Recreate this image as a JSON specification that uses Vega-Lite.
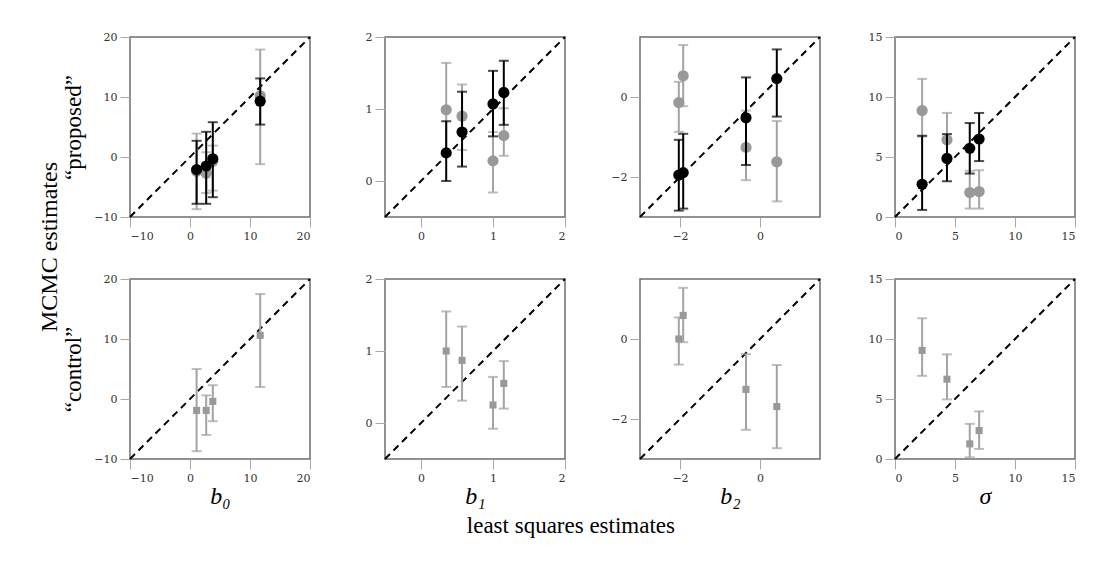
{
  "$schema": "https://vega.github.io/schema/vega-lite/v6.json",
  "background": "white",
  "padding": {"left": 38, "top": 30, "right": 5, "bottom": 5},
  "datasets": {
    "d": [
      {"p": "b0", "r": "all", "s": "diag", "x": -10, "y": -10},
      {"p": "b0", "r": "all", "s": "diag", "x": 20, "y": 20},
      {"p": "b1", "r": "all", "s": "diag", "x": -0.5, "y": -0.5},
      {"p": "b1", "r": "all", "s": "diag", "x": 2, "y": 2},
      {"p": "b2", "r": "all", "s": "diag", "x": -3, "y": -3},
      {"p": "b2", "r": "all", "s": "diag", "x": 1.5, "y": 1.5},
      {"p": "sigma", "r": "all", "s": "diag", "x": 0, "y": 0},
      {"p": "sigma", "r": "all", "s": "diag", "x": 15, "y": 15},

      {"p": "b0", "r": "proposed", "s": "black", "x": 1.1, "y": -2.1, "lo": -7.8, "hi": 2.7},
      {"p": "b0", "r": "proposed", "s": "black", "x": 2.7, "y": -1.5, "lo": -7.8, "hi": 4.2},
      {"p": "b0", "r": "proposed", "s": "black", "x": 3.8, "y": -0.3, "lo": -6.7, "hi": 5.8},
      {"p": "b0", "r": "proposed", "s": "black", "x": 11.7, "y": 9.3, "lo": 5.4, "hi": 13.1},
      {"p": "b0", "r": "proposed", "s": "grey", "x": 1.1, "y": -2.4, "lo": -8.7, "hi": 3.9},
      {"p": "b0", "r": "proposed", "s": "grey", "x": 2.7, "y": -2.7, "lo": -6.0, "hi": 0.8},
      {"p": "b0", "r": "proposed", "s": "grey", "x": 3.8, "y": -0.7, "lo": -5.6, "hi": 1.9},
      {"p": "b0", "r": "proposed", "s": "grey", "x": 11.7, "y": 10.2, "lo": -1.2, "hi": 17.9},
      {"p": "b0", "r": "control", "s": "grey", "x": 1.1, "y": -1.9, "lo": -8.7, "hi": 5.0},
      {"p": "b0", "r": "control", "s": "grey", "x": 2.7, "y": -1.9, "lo": -6.0, "hi": 0.6},
      {"p": "b0", "r": "control", "s": "grey", "x": 3.8, "y": -0.4, "lo": -3.7, "hi": 2.3},
      {"p": "b0", "r": "control", "s": "grey", "x": 11.7, "y": 10.6, "lo": 2.0, "hi": 17.5},

      {"p": "b1", "r": "proposed", "s": "black", "x": 0.35, "y": 0.39, "lo": 0.0, "hi": 0.83},
      {"p": "b1", "r": "proposed", "s": "black", "x": 0.57, "y": 0.68, "lo": 0.2, "hi": 1.24},
      {"p": "b1", "r": "proposed", "s": "black", "x": 1.0, "y": 1.07, "lo": 0.62, "hi": 1.53},
      {"p": "b1", "r": "proposed", "s": "black", "x": 1.15, "y": 1.23, "lo": 0.78, "hi": 1.67},
      {"p": "b1", "r": "proposed", "s": "grey", "x": 0.35, "y": 0.99, "lo": 0.35, "hi": 1.64},
      {"p": "b1", "r": "proposed", "s": "grey", "x": 0.57, "y": 0.9, "lo": 0.43, "hi": 1.34},
      {"p": "b1", "r": "proposed", "s": "grey", "x": 1.0, "y": 0.28, "lo": -0.16, "hi": 0.68},
      {"p": "b1", "r": "proposed", "s": "grey", "x": 1.15, "y": 0.63, "lo": 0.35, "hi": 1.01},
      {"p": "b1", "r": "control", "s": "grey", "x": 0.35, "y": 1.0, "lo": 0.5, "hi": 1.55},
      {"p": "b1", "r": "control", "s": "grey", "x": 0.57, "y": 0.87, "lo": 0.31, "hi": 1.34},
      {"p": "b1", "r": "control", "s": "grey", "x": 1.0, "y": 0.25, "lo": -0.08, "hi": 0.64},
      {"p": "b1", "r": "control", "s": "grey", "x": 1.15, "y": 0.55, "lo": 0.2, "hi": 0.86},

      {"p": "b2", "r": "proposed", "s": "black", "x": -2.03, "y": -1.95, "lo": -2.84, "hi": -1.07},
      {"p": "b2", "r": "proposed", "s": "black", "x": -1.92, "y": -1.89, "lo": -2.79, "hi": -0.92},
      {"p": "b2", "r": "proposed", "s": "black", "x": -0.35, "y": -0.52, "lo": -1.7, "hi": 0.49},
      {"p": "b2", "r": "proposed", "s": "black", "x": 0.42, "y": 0.46, "lo": -0.49, "hi": 1.19},
      {"p": "b2", "r": "proposed", "s": "grey", "x": -2.03, "y": -0.14, "lo": -0.87, "hi": 0.38},
      {"p": "b2", "r": "proposed", "s": "grey", "x": -1.92, "y": 0.53, "lo": -0.23, "hi": 1.3},
      {"p": "b2", "r": "proposed", "s": "grey", "x": -0.35, "y": -1.26, "lo": -2.08, "hi": -0.34},
      {"p": "b2", "r": "proposed", "s": "grey", "x": 0.42, "y": -1.62, "lo": -2.61, "hi": -0.6},
      {"p": "b2", "r": "control", "s": "grey", "x": -2.03, "y": 0.0, "lo": -0.64, "hi": 0.54},
      {"p": "b2", "r": "control", "s": "grey", "x": -1.92, "y": 0.59, "lo": -0.08, "hi": 1.28},
      {"p": "b2", "r": "control", "s": "grey", "x": -0.35, "y": -1.26, "lo": -2.27, "hi": -0.38},
      {"p": "b2", "r": "control", "s": "grey", "x": 0.42, "y": -1.69, "lo": -2.73, "hi": -0.65},

      {"p": "sigma", "r": "proposed", "s": "black", "x": 2.26, "y": 2.73, "lo": 0.59, "hi": 6.77},
      {"p": "sigma", "r": "proposed", "s": "black", "x": 4.33, "y": 4.88, "lo": 2.98, "hi": 6.91},
      {"p": "sigma", "r": "proposed", "s": "black", "x": 6.23, "y": 5.72, "lo": 3.62, "hi": 7.83},
      {"p": "sigma", "r": "proposed", "s": "black", "x": 7.01, "y": 6.5, "lo": 4.66, "hi": 8.67},
      {"p": "sigma", "r": "proposed", "s": "grey", "x": 2.26, "y": 8.87, "lo": 6.7, "hi": 11.51},
      {"p": "sigma", "r": "proposed", "s": "grey", "x": 4.33, "y": 6.44, "lo": 4.9, "hi": 8.67},
      {"p": "sigma", "r": "proposed", "s": "grey", "x": 6.23, "y": 2.04, "lo": 0.7, "hi": 3.85},
      {"p": "sigma", "r": "proposed", "s": "grey", "x": 7.01, "y": 2.12, "lo": 0.7, "hi": 3.9},
      {"p": "sigma", "r": "control", "s": "grey", "x": 2.26, "y": 9.05, "lo": 6.93, "hi": 11.73},
      {"p": "sigma", "r": "control", "s": "grey", "x": 4.33, "y": 6.65, "lo": 4.97, "hi": 8.72},
      {"p": "sigma", "r": "control", "s": "grey", "x": 6.23, "y": 1.26, "lo": 0.14, "hi": 2.93},
      {"p": "sigma", "r": "control", "s": "grey", "x": 7.01, "y": 2.37, "lo": 0.84, "hi": 3.97}
    ]
  },
  "title": {"text": "MCMC estimates", "orient": "left", "anchor": "middle", "font": "Liberation Serif", "fontSize": 24, "fontWeight": "normal", "color": "#000", "offset": 0, "dx": 37},
  "vconcat": [
    {
      "title": {"text": "least squares estimates", "orient": "bottom", "anchor": "middle", "font": "Liberation Serif", "fontSize": 23, "fontWeight": "normal", "color": "#000", "offset": 6},
      "columns": 4,
      "bounds": "flush",
      "spacing": {"row": 62, "column": 75},
      "concat": [
        {
          "width": 180, "height": 180, "data": {"name": "d"},
          "layer": [
            {"transform": [{"filter": "datum.s==='diag' && datum.p==='b0'"}], "mark": {"type": "line", "color": "#000", "strokeWidth": 2, "strokeDash": [7, 5]},
             "encoding": {"x": {"field": "x", "type": "quantitative", "scale": {"domain": [-10, 20], "nice": false, "zero": false}, "axis": {"values": [-10, 0, 10, 20], "title": null}},
                          "y": {"field": "y", "type": "quantitative", "scale": {"domain": [-10, 20], "nice": false, "zero": false}, "axis": {"values": [-10, 0, 10, 20], "title": "“proposed”"}}}},
            {"transform": [{"filter": "datum.s==='grey' && datum.p==='b0' && datum.r==='proposed'"}], "mark": {"type": "errorbar", "ticks": true, "size": 10, "thickness": 2, "color": "#a3a3a3"},
             "encoding": {"x": {"field": "x", "type": "quantitative"}, "y": {"field": "lo", "type": "quantitative", "title": "“proposed”"}, "y2": {"field": "hi"}}},
            {"transform": [{"filter": "datum.s==='grey' && datum.p==='b0' && datum.r==='proposed'"}], "mark": {"type": "point", "shape": "circle", "filled": true, "size": 125, "color": "#999999", "opacity": 1},
             "encoding": {"x": {"field": "x", "type": "quantitative"}, "y": {"field": "y", "type": "quantitative", "title": "“proposed”"}}},
            {"transform": [{"filter": "datum.s==='black' && datum.p==='b0' && datum.r==='proposed'"}], "mark": {"type": "errorbar", "ticks": true, "size": 10, "thickness": 2, "color": "#000"},
             "encoding": {"x": {"field": "x", "type": "quantitative"}, "y": {"field": "lo", "type": "quantitative", "title": "“proposed”"}, "y2": {"field": "hi"}}},
            {"transform": [{"filter": "datum.s==='black' && datum.p==='b0' && datum.r==='proposed'"}], "mark": {"type": "point", "shape": "circle", "filled": true, "size": 125, "color": "#000", "opacity": 1},
             "encoding": {"x": {"field": "x", "type": "quantitative"}, "y": {"field": "y", "type": "quantitative", "title": "“proposed”"}}}
          ]
        },
        {
          "width": 180, "height": 180, "data": {"name": "d"},
          "layer": [
            {"transform": [{"filter": "datum.s==='diag' && datum.p==='b1'"}], "mark": {"type": "line", "color": "#000", "strokeWidth": 2, "strokeDash": [7, 5]},
             "encoding": {"x": {"field": "x", "type": "quantitative", "scale": {"domain": [-0.5, 2], "nice": false, "zero": false}, "axis": {"values": [0, 1, 2], "format": "d", "title": null}},
                          "y": {"field": "y", "type": "quantitative", "scale": {"domain": [-0.5, 2], "nice": false, "zero": false}, "axis": {"values": [0, 1, 2], "format": "d", "title": null}}}},
            {"transform": [{"filter": "datum.s==='grey' && datum.p==='b1' && datum.r==='proposed'"}], "mark": {"type": "errorbar", "ticks": true, "size": 10, "thickness": 2, "color": "#a3a3a3"},
             "encoding": {"x": {"field": "x", "type": "quantitative"}, "y": {"field": "lo", "type": "quantitative"}, "y2": {"field": "hi"}}},
            {"transform": [{"filter": "datum.s==='grey' && datum.p==='b1' && datum.r==='proposed'"}], "mark": {"type": "point", "shape": "circle", "filled": true, "size": 125, "color": "#999999", "opacity": 1},
             "encoding": {"x": {"field": "x", "type": "quantitative"}, "y": {"field": "y", "type": "quantitative"}}},
            {"transform": [{"filter": "datum.s==='black' && datum.p==='b1' && datum.r==='proposed'"}], "mark": {"type": "errorbar", "ticks": true, "size": 10, "thickness": 2, "color": "#000"},
             "encoding": {"x": {"field": "x", "type": "quantitative"}, "y": {"field": "lo", "type": "quantitative"}, "y2": {"field": "hi"}}},
            {"transform": [{"filter": "datum.s==='black' && datum.p==='b1' && datum.r==='proposed'"}], "mark": {"type": "point", "shape": "circle", "filled": true, "size": 125, "color": "#000", "opacity": 1},
             "encoding": {"x": {"field": "x", "type": "quantitative"}, "y": {"field": "y", "type": "quantitative"}}}
          ]
        },
        {
          "width": 180, "height": 180, "data": {"name": "d"},
          "layer": [
            {"transform": [{"filter": "datum.s==='diag' && datum.p==='b2'"}], "mark": {"type": "line", "color": "#000", "strokeWidth": 2, "strokeDash": [7, 5]},
             "encoding": {"x": {"field": "x", "type": "quantitative", "scale": {"domain": [-3, 1.5], "nice": false, "zero": false}, "axis": {"values": [-2, 0], "title": null}},
                          "y": {"field": "y", "type": "quantitative", "scale": {"domain": [-3, 1.5], "nice": false, "zero": false}, "axis": {"values": [-2, 0], "title": null}}}},
            {"transform": [{"filter": "datum.s==='grey' && datum.p==='b2' && datum.r==='proposed'"}], "mark": {"type": "errorbar", "ticks": true, "size": 10, "thickness": 2, "color": "#a3a3a3"},
             "encoding": {"x": {"field": "x", "type": "quantitative"}, "y": {"field": "lo", "type": "quantitative"}, "y2": {"field": "hi"}}},
            {"transform": [{"filter": "datum.s==='grey' && datum.p==='b2' && datum.r==='proposed'"}], "mark": {"type": "point", "shape": "circle", "filled": true, "size": 125, "color": "#999999", "opacity": 1},
             "encoding": {"x": {"field": "x", "type": "quantitative"}, "y": {"field": "y", "type": "quantitative"}}},
            {"transform": [{"filter": "datum.s==='black' && datum.p==='b2' && datum.r==='proposed'"}], "mark": {"type": "errorbar", "ticks": true, "size": 10, "thickness": 2, "color": "#000"},
             "encoding": {"x": {"field": "x", "type": "quantitative"}, "y": {"field": "lo", "type": "quantitative"}, "y2": {"field": "hi"}}},
            {"transform": [{"filter": "datum.s==='black' && datum.p==='b2' && datum.r==='proposed'"}], "mark": {"type": "point", "shape": "circle", "filled": true, "size": 125, "color": "#000", "opacity": 1},
             "encoding": {"x": {"field": "x", "type": "quantitative"}, "y": {"field": "y", "type": "quantitative"}}}
          ]
        },
        {
          "width": 180, "height": 180, "data": {"name": "d"},
          "layer": [
            {"transform": [{"filter": "datum.s==='diag' && datum.p==='sigma'"}], "mark": {"type": "line", "color": "#000", "strokeWidth": 2, "strokeDash": [7, 5]},
             "encoding": {"x": {"field": "x", "type": "quantitative", "scale": {"domain": [0, 15], "nice": false, "zero": false}, "axis": {"values": [0, 5, 10, 15], "title": null}},
                          "y": {"field": "y", "type": "quantitative", "scale": {"domain": [0, 15], "nice": false, "zero": false}, "axis": {"values": [0, 5, 10, 15], "title": null}}}},
            {"transform": [{"filter": "datum.s==='grey' && datum.p==='sigma' && datum.r==='proposed'"}], "mark": {"type": "errorbar", "ticks": true, "size": 10, "thickness": 2, "color": "#a3a3a3"},
             "encoding": {"x": {"field": "x", "type": "quantitative"}, "y": {"field": "lo", "type": "quantitative"}, "y2": {"field": "hi"}}},
            {"transform": [{"filter": "datum.s==='grey' && datum.p==='sigma' && datum.r==='proposed'"}], "mark": {"type": "point", "shape": "circle", "filled": true, "size": 125, "color": "#999999", "opacity": 1},
             "encoding": {"x": {"field": "x", "type": "quantitative"}, "y": {"field": "y", "type": "quantitative"}}},
            {"transform": [{"filter": "datum.s==='black' && datum.p==='sigma' && datum.r==='proposed'"}], "mark": {"type": "errorbar", "ticks": true, "size": 10, "thickness": 2, "color": "#000"},
             "encoding": {"x": {"field": "x", "type": "quantitative"}, "y": {"field": "lo", "type": "quantitative"}, "y2": {"field": "hi"}}},
            {"transform": [{"filter": "datum.s==='black' && datum.p==='sigma' && datum.r==='proposed'"}], "mark": {"type": "point", "shape": "circle", "filled": true, "size": 125, "color": "#000", "opacity": 1},
             "encoding": {"x": {"field": "x", "type": "quantitative"}, "y": {"field": "y", "type": "quantitative"}}}
          ]
        },
        {
          "width": 180, "height": 180, "data": {"name": "d"},
          "layer": [
            {"transform": [{"filter": "datum.s==='diag' && datum.p==='b0'"}], "mark": {"type": "line", "color": "#000", "strokeWidth": 2, "strokeDash": [7, 5]},
             "encoding": {"x": {"field": "x", "type": "quantitative", "scale": {"domain": [-10, 20], "nice": false, "zero": false}, "axis": {"values": [-10, 0, 10, 20], "title": "b₀", "titleFontStyle": "italic", "titleFontSize": 24, "titlePadding": 1}},
                          "y": {"field": "y", "type": "quantitative", "scale": {"domain": [-10, 20], "nice": false, "zero": false}, "axis": {"values": [-10, 0, 10, 20], "title": "“control”"}}}},
            {"transform": [{"filter": "datum.s==='grey' && datum.p==='b0' && datum.r==='control'"}], "mark": {"type": "errorbar", "ticks": true, "size": 10, "thickness": 2, "color": "#a3a3a3"},
             "encoding": {"x": {"field": "x", "type": "quantitative", "title": "b₀"}, "y": {"field": "lo", "type": "quantitative", "title": "“control”"}, "y2": {"field": "hi"}}},
            {"transform": [{"filter": "datum.s==='grey' && datum.p==='b0' && datum.r==='control'"}], "mark": {"type": "point", "shape": "square", "filled": true, "size": 50, "color": "#999999", "opacity": 1},
             "encoding": {"x": {"field": "x", "type": "quantitative", "title": "b₀"}, "y": {"field": "y", "type": "quantitative", "title": "“control”"}}}
          ]
        },
        {
          "width": 180, "height": 180, "data": {"name": "d"},
          "layer": [
            {"transform": [{"filter": "datum.s==='diag' && datum.p==='b1'"}], "mark": {"type": "line", "color": "#000", "strokeWidth": 2, "strokeDash": [7, 5]},
             "encoding": {"x": {"field": "x", "type": "quantitative", "scale": {"domain": [-0.5, 2], "nice": false, "zero": false}, "axis": {"values": [0, 1, 2], "format": "d", "title": "b₁", "titleFontStyle": "italic", "titleFontSize": 24, "titlePadding": 1}},
                          "y": {"field": "y", "type": "quantitative", "scale": {"domain": [-0.5, 2], "nice": false, "zero": false}, "axis": {"values": [0, 1, 2], "format": "d", "title": null}}}},
            {"transform": [{"filter": "datum.s==='grey' && datum.p==='b1' && datum.r==='control'"}], "mark": {"type": "errorbar", "ticks": true, "size": 10, "thickness": 2, "color": "#a3a3a3"},
             "encoding": {"x": {"field": "x", "type": "quantitative", "title": "b₁"}, "y": {"field": "lo", "type": "quantitative"}, "y2": {"field": "hi"}}},
            {"transform": [{"filter": "datum.s==='grey' && datum.p==='b1' && datum.r==='control'"}], "mark": {"type": "point", "shape": "square", "filled": true, "size": 50, "color": "#999999", "opacity": 1},
             "encoding": {"x": {"field": "x", "type": "quantitative", "title": "b₁"}, "y": {"field": "y", "type": "quantitative"}}}
          ]
        },
        {
          "width": 180, "height": 180, "data": {"name": "d"},
          "layer": [
            {"transform": [{"filter": "datum.s==='diag' && datum.p==='b2'"}], "mark": {"type": "line", "color": "#000", "strokeWidth": 2, "strokeDash": [7, 5]},
             "encoding": {"x": {"field": "x", "type": "quantitative", "scale": {"domain": [-3, 1.5], "nice": false, "zero": false}, "axis": {"values": [-2, 0], "title": "b₂", "titleFontStyle": "italic", "titleFontSize": 24, "titlePadding": 1}},
                          "y": {"field": "y", "type": "quantitative", "scale": {"domain": [-3, 1.5], "nice": false, "zero": false}, "axis": {"values": [-2, 0], "title": null}}}},
            {"transform": [{"filter": "datum.s==='grey' && datum.p==='b2' && datum.r==='control'"}], "mark": {"type": "errorbar", "ticks": true, "size": 10, "thickness": 2, "color": "#a3a3a3"},
             "encoding": {"x": {"field": "x", "type": "quantitative", "title": "b₂"}, "y": {"field": "lo", "type": "quantitative"}, "y2": {"field": "hi"}}},
            {"transform": [{"filter": "datum.s==='grey' && datum.p==='b2' && datum.r==='control'"}], "mark": {"type": "point", "shape": "square", "filled": true, "size": 50, "color": "#999999", "opacity": 1},
             "encoding": {"x": {"field": "x", "type": "quantitative", "title": "b₂"}, "y": {"field": "y", "type": "quantitative"}}}
          ]
        },
        {
          "width": 180, "height": 180, "data": {"name": "d"},
          "layer": [
            {"transform": [{"filter": "datum.s==='diag' && datum.p==='sigma'"}], "mark": {"type": "line", "color": "#000", "strokeWidth": 2, "strokeDash": [7, 5]},
             "encoding": {"x": {"field": "x", "type": "quantitative", "scale": {"domain": [0, 15], "nice": false, "zero": false}, "axis": {"values": [0, 5, 10, 15], "title": "σ", "titleFontStyle": "italic", "titleFontSize": 24, "titlePadding": 1}},
                          "y": {"field": "y", "type": "quantitative", "scale": {"domain": [0, 15], "nice": false, "zero": false}, "axis": {"values": [0, 5, 10, 15], "title": null}}}},
            {"transform": [{"filter": "datum.s==='grey' && datum.p==='sigma' && datum.r==='control'"}], "mark": {"type": "errorbar", "ticks": true, "size": 10, "thickness": 2, "color": "#a3a3a3"},
             "encoding": {"x": {"field": "x", "type": "quantitative", "title": "σ"}, "y": {"field": "lo", "type": "quantitative"}, "y2": {"field": "hi"}}},
            {"transform": [{"filter": "datum.s==='grey' && datum.p==='sigma' && datum.r==='control'"}], "mark": {"type": "point", "shape": "square", "filled": true, "size": 50, "color": "#999999", "opacity": 1},
             "encoding": {"x": {"field": "x", "type": "quantitative", "title": "σ"}, "y": {"field": "y", "type": "quantitative"}}}
          ]
        }
      ]
    }
  ],
  "config": {
    "view": {"stroke": "#6e6e6e", "strokeWidth": 1.5},
    "axis": {
      "domain": false, "grid": false, "ticks": true, "tickColor": "#a8a8a8", "tickSize": 10, "tickWidth": 1,
      "labelFont": "DejaVu Serif", "labelFontSize": 11, "labelColor": "#333", "labelPadding": 3,
      "titleFont": "Liberation Serif", "titleFontSize": 23, "titleFontWeight": "normal", "titleColor": "#000", "titlePadding": 8
    }
  }
}
